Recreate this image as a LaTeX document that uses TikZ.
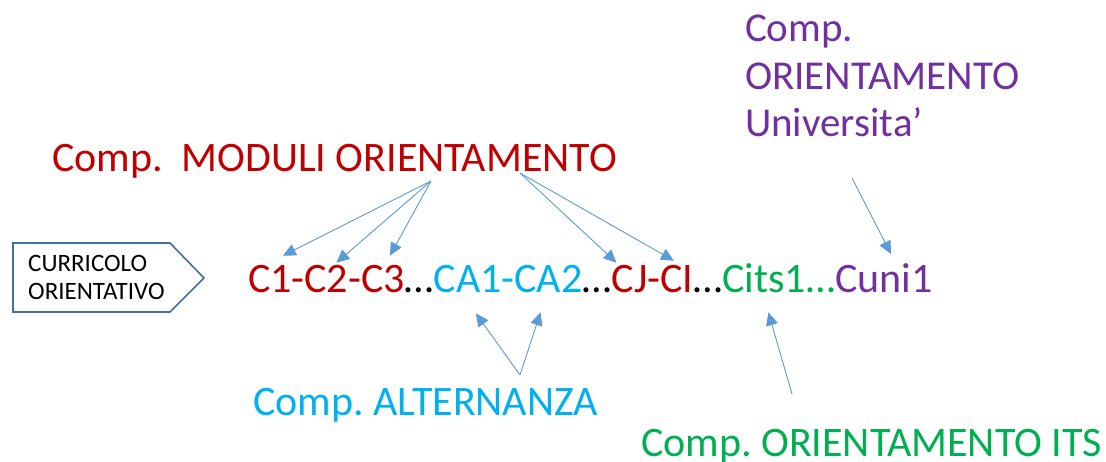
\documentclass[tikz,border=0pt]{standalone}
\usepackage{fontspec}
\setmainfont{Carlito}
\usetikzlibrary{arrows.meta,positioning}

\definecolor{modred}{HTML}{C00000}
\definecolor{altcyan}{HTML}{00B0F0}
\definecolor{itsgreen}{HTML}{00B050}
\definecolor{unipurple}{HTML}{7030A0}
\definecolor{arrowblue}{HTML}{5B9BD5}
\definecolor{boxblue}{HTML}{41719C}

\begin{document}
\frenchspacing
\begin{tikzpicture}[x=1pt, y=-1pt, >={Triangle[length=13pt,width=12pt]},
    big/.style={font=\fontsize{42}{48}\selectfont, inner sep=0pt, outer sep=0pt, anchor=base west},
    arr/.style={->, draw=arrowblue, line width=0.9pt}]
    \useasboundingbox (0,0) rectangle (1106,462);

    % Box
    \draw [draw=boxblue, line width=1.6pt] (13,243) -- (170,243) -- (204,278) -- (170,312) -- (13,312) -- cycle;
    \node [font=\fontsize{25}{28}\selectfont, align=left, anchor=base west, inner sep=0pt] (cur) at (28,300) {CURRICOLO\\ORIENTATIVO};

    % Labels
    \node [big, text=modred]    (mod) at (52,172)  {Comp.\ \ MODULI ORIENTAMENTO};
    \node [big, text=altcyan]   (alt) at (253,415) {Comp. ALTERNANZA};
    \node [big, text=itsgreen]  (its) at (641,456) {Comp. ORIENTAMENTO ITS};
    \node [big, text=unipurple, align=left, font=\fontsize{41}{47.5}\selectfont] (uni) at (745,137) {Comp.\\ORIENTAMENTO\\Universita’};

    % Chain {C1, C2, C3, ...}
    \node [big, text=modred]    (c1) at (248,293)          {C1};
    \node [big, text=modred]    (d1) [base right=0pt of c1] {-};
    \node [big, text=modred]    (c2) [base right=0pt of d1] {C2};
    \node [big, text=modred]    (d2) [base right=0pt of c2] {-};
    \node [big, text=modred]    (c3) [base right=0pt of d2] {C3};
    \node [big]                 (e1) [base right=0pt of c3] {…};
    \node [big, text=altcyan]   (a1) [base right=0pt of e1] {CA1};
    \node [big, text=altcyan]   (d3) [base right=0pt of a1] {-};
    \node [big, text=altcyan]   (a2) [base right=0pt of d3] {CA2};
    \node [big]                 (e2) [base right=0pt of a2] {…};
    \node [big, text=modred]    (cj) [base right=0pt of e2] {CJ};
    \node [big, text=modred]    (d4) [base right=0pt of cj] {-};
    \node [big, text=modred]    (ci) [base right=0pt of d4] {CI};
    \node [big]                 (e3) [base right=0pt of ci] {…};
    \node [big, text=itsgreen]  (cits) [base right=0pt of e3] {Cits1};
    \node [big, text=itsgreen]  (e4) [base right=0pt of cits] {…};
    \node [big, text=unipurple] (cuni) [base right=0pt of e4] {Cuni1};

    % Free ends
    \coordinate (modA) at (431,181);
    \coordinate (modB) at (520,173);
    \coordinate (altA) at (520,375);
    \coordinate (itsA) at (792,394);
    \coordinate (uniA) at (852,178);

    % Paths
    \path (modA) edge [arr] ([xshift=13pt,yshift=10pt]c1.north);
    \path (modA) edge [arr] ([xshift=10pt,yshift=3pt]c2.north);
    \path (modA) edge [arr] ([xshift=7pt,yshift=10pt]c3.north);
    \path (modB) edge [arr] ([xshift=-13pt,yshift=3pt]cj.north);
    \path (modB) edge [arr] ([xshift=-3pt,yshift=5pt]ci.north);
    \path (altA) edge [arr] ([xshift=8pt,yshift=-20pt]a1.south);
    \path (altA) edge [arr] ([xshift=-8pt,yshift=-19pt]a2.south);
    \path (itsA) edge [arr] ([xshift=4pt,yshift=-19pt]cits.south);
    \path (uniA) edge [arr] ([xshift=7pt,yshift=10pt]cuni.north);
\end{tikzpicture}
\end{document}
